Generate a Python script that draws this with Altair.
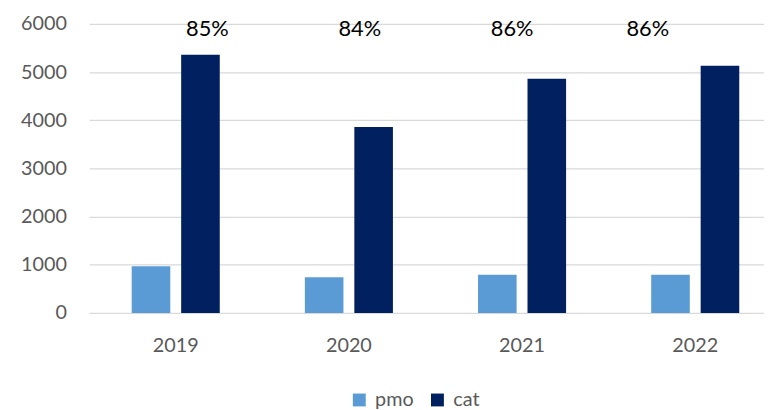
import altair as alt
import pandas as pd

years = ["2019", "2020", "2021", "2022"]
pmo = [970, 740, 790, 790]
cat = [5360, 3860, 4860, 5130]
pct_labels = ["85%", "84%", "86%", "86%"]
series = ["pmo", "cat"]
colors = ["#5B9BD5", "#002060"]

rows = []
for i, y in enumerate(years):
    rows.append({"year": y, "series": "pmo", "value": pmo[i]})
    rows.append({"year": y, "series": "cat", "value": cat[i]})
df = pd.DataFrame(rows)
lab = pd.DataFrame({"year": years, "label": pct_labels})

FONT = "Lato"

x_scale = alt.Scale(domain=years, range=[0, 700], paddingInner=0, paddingOuter=0)
y_scale = alt.Scale(domain=[0, 6000], nice=False)

bars = alt.Chart(df).mark_bar().encode(
    x=alt.X("year:N", scale=x_scale,
            axis=alt.Axis(title=None, labelAngle=0, domain=False, ticks=False,
                          labelPadding=23, labelFontSize=20, labelColor="#595959",
                          labelFont=FONT, grid=False)),
    xOffset=alt.XOffset("series:N", sort=series,
                        scale=alt.Scale(paddingInner=0.22, paddingOuter=0.86)),
    y=alt.Y("value:Q", scale=y_scale,
            axis=alt.Axis(title=None, values=[0, 1000, 2000, 3000, 4000, 5000, 6000],
                          format="d",
                          domain=False, ticks=False, labelPadding=23, labelFontSize=20,
                          labelColor="#595959", labelFont=FONT, gridColor="#d9d9d9",
                          gridWidth=1.2)),
    color=alt.Color("series:N", sort=series,
                    scale=alt.Scale(domain=series, range=colors),
                    legend=alt.Legend(title=None, orient="none", direction="horizontal",
                                      legendX=263, legendY=370, symbolType="square",
                                      symbolSize=169, symbolStrokeWidth=0,
                                      labelFontSize=20, labelFont=FONT,
                                      labelColor="#595959", labelOffset=6,
                                      columnPadding=14, padding=0)),
)

dxs = [32, 11, -10, -48]
layers = [bars]
for i, y in enumerate(years):
    t = alt.Chart(lab).transform_filter(alt.datum.year == y).mark_text(
        font=FONT, fontSize=22, color="#000000", baseline="alphabetic",
        align="center", dx=dxs[i], dy=12
    ).encode(
        x=alt.X("year:N", scale=x_scale),
        y=alt.Y(datum=6000, scale=y_scale),
        text="label:N",
    )
    layers.append(t)

chart = alt.layer(*layers).properties(
    width=682, height=292,
    autosize=alt.AutoSizeParams(type="none"),
    padding={"left": 82, "top": 14, "right": 0, "bottom": 96},
    background="white",
).configure_view(stroke=None).configure_axis(domain=False, ticks=False)

chart.save("out.html", embed_options={"renderer": "svg", "actions": False})
